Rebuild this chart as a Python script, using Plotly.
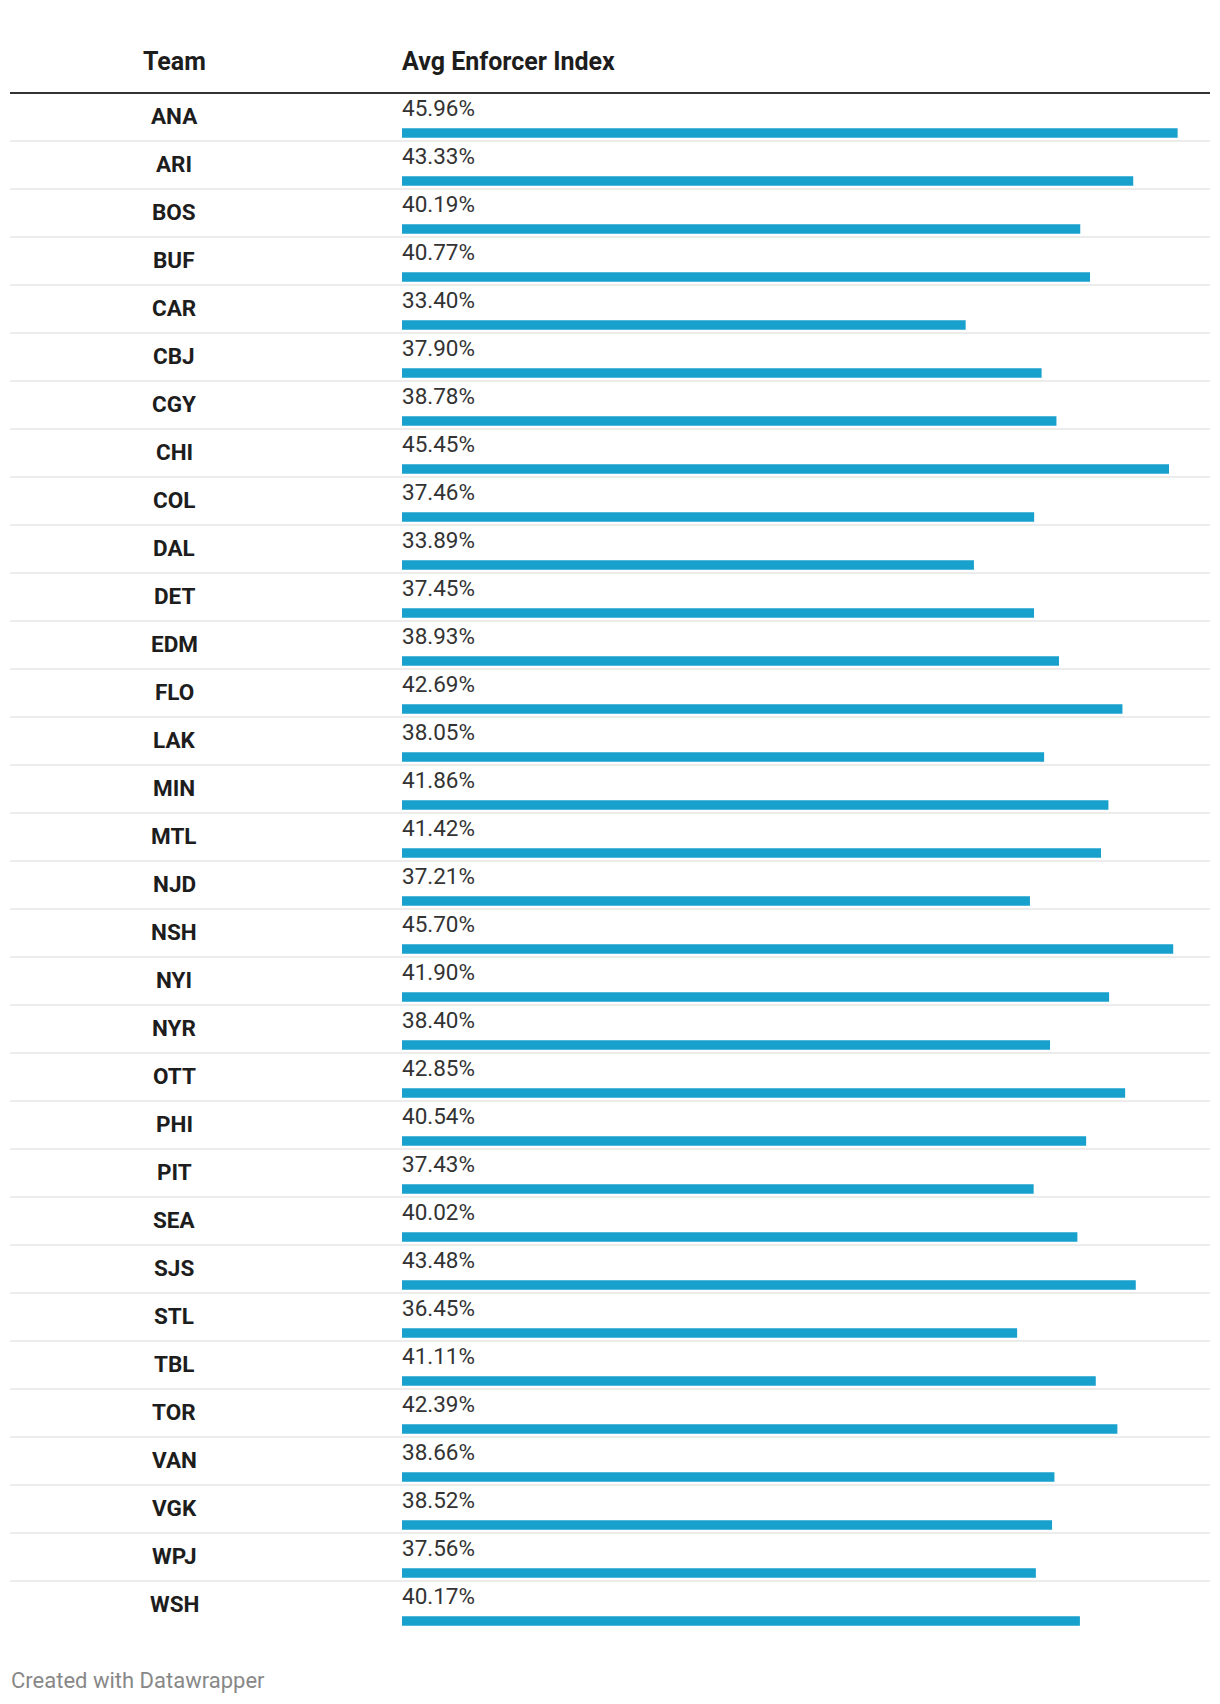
import plotly.graph_objects as go

teams = ["ANA", "ARI", "BOS", "BUF", "CAR", "CBJ", "CGY", "CHI", "COL", "DAL", "DET",
         "EDM", "FLO", "LAK", "MIN", "MTL", "NJD", "NSH", "NYI", "NYR", "OTT", "PHI",
         "PIT", "SEA", "SJS", "STL", "TBL", "TOR", "VAN", "VGK", "WPJ", "WSH"]
enforcer_index = [45.96, 43.33, 40.19, 40.77, 33.40, 37.90, 38.78, 45.45, 37.46, 33.89, 37.45,
                  38.93, 42.69, 38.05, 41.86, 41.42, 37.21, 45.70, 41.90, 38.40, 42.85, 40.54,
                  37.43, 40.02, 43.48, 36.45, 41.11, 42.39, 38.66, 38.52, 37.56, 40.17]
col_headers = ["Team", "Avg Enforcer Index"]
footer_text = "Created with Datawrapper"

W, H = 1220, 1704
OFF = 8  # page body margin compensation
TOP, ROW = 93 - OFF, 48
n = len(teams)
BOTTOM = TOP + ROW * n
PX_PER_UNIT = 16.876
X0_PX, LEFT_PX, RIGHT_PX = 402 - OFF, 10 - OFF, 1210 - OFF
TEAM_X = 174 - OFF
BAR_COLOR = "#19a1cd"
FONT = "Roboto"

bar_h = 9.5 / ROW
bar_center = 16 / ROW

fig = go.Figure()
fig.add_trace(go.Bar(
    x=enforcer_index, y=teams, orientation="h",
    marker=dict(color=BAR_COLOR, line=dict(width=0)),
    width=bar_h, offset=bar_center - bar_h / 2,
    hoverinfo="skip",
))

annotations = []
for t, v in zip(teams, enforcer_index):
    annotations.append(dict(
        x=TEAM_X / W, xref="paper", y=t, yref="y",
        text=t, showarrow=False, xanchor="center", yanchor="middle", yshift=1,
        font=dict(family=FONT, size=22.5, color="#1d1d1d", weight=700),
    ))
    annotations.append(dict(
        x=0, xref="x", y=t, yref="y", text=f"{v:.2f}%", showarrow=False,
        xanchor="left", yanchor="middle", yshift=9, xshift=-2,
        font=dict(family=FONT, size=22.5, color="#333333"),
    ))

annotations.append(dict(
    x=TEAM_X / W, xref="paper", y=1 - (62 - OFF) / H, yref="paper", text=col_headers[0],
    showarrow=False, xanchor="center", yanchor="middle",
    font=dict(family=FONT, size=25, color="#1d1d1d", weight=700),
))
annotations.append(dict(
    x=X0_PX / W, xref="paper", y=1 - (62 - OFF) / H, yref="paper", text=col_headers[1],
    showarrow=False, xanchor="left", yanchor="middle", xshift=-2,
    font=dict(family=FONT, size=25, color="#1d1d1d", weight=700),
))
annotations.append(dict(
    x=LEFT_PX / W, xref="paper", y=1 - (1680 - OFF) / H, yref="paper", text=footer_text,
    showarrow=False, xanchor="left", yanchor="middle", xshift=-1,
    font=dict(family=FONT, size=22, color="#888888"),
))

shapes = []
for i in range(n - 1):
    shapes.append(dict(
        type="line", xref="paper", yref="y",
        x0=LEFT_PX / W, x1=RIGHT_PX / W, y0=i + 0.5, y1=i + 0.5,
        line=dict(color="#ececec", width=2), layer="below",
    ))
shapes.append(dict(
    type="line", xref="paper", yref="paper",
    x0=LEFT_PX / W, x1=RIGHT_PX / W, y0=1 - TOP / H, y1=1 - TOP / H,
    line=dict(color="#333333", width=2),
))

fig.update_layout(
    width=W, height=H,
    margin=dict(l=0, r=0, t=0, b=0),
    paper_bgcolor="white", plot_bgcolor="white",
    showlegend=False,
    xaxis=dict(
        domain=[LEFT_PX / W, RIGHT_PX / W],
        range=[-(X0_PX - LEFT_PX) / PX_PER_UNIT, (RIGHT_PX - X0_PX) / PX_PER_UNIT],
        visible=False, fixedrange=True,
    ),
    yaxis=dict(
        domain=[1 - BOTTOM / H, 1 - TOP / H],
        type="category", categoryorder="array", categoryarray=teams,
        range=[n - 0.5, -0.5],
        visible=False, fixedrange=True,
    ),
    annotations=annotations,
    shapes=shapes,
)

fig.write_html("out.html")
